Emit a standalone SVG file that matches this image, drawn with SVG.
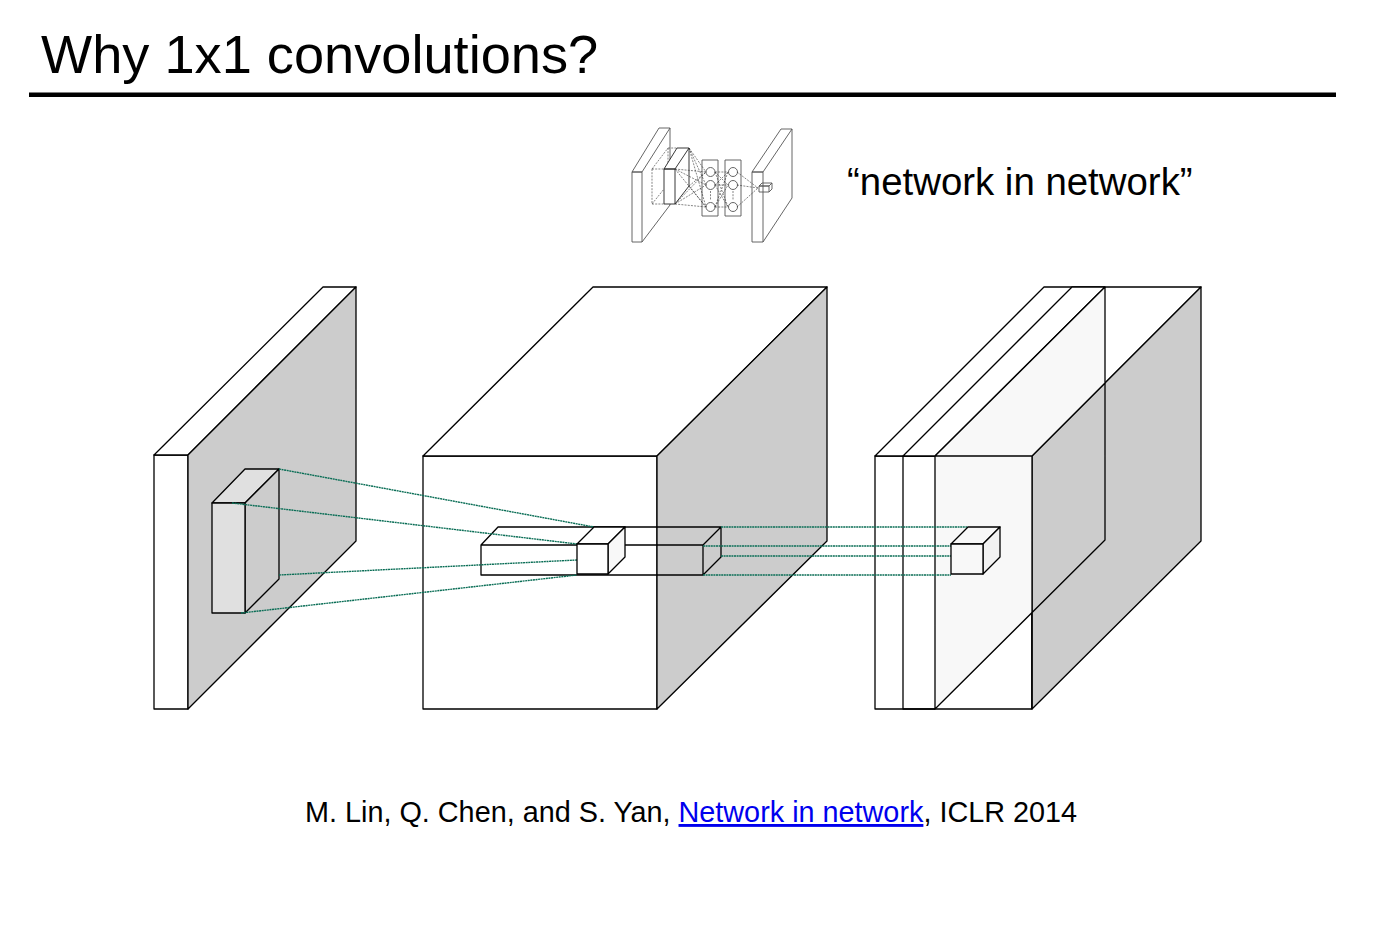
<svg xmlns="http://www.w3.org/2000/svg" width="1393" height="944" viewBox="0 0 1393 944">
<style>
.s{stroke:#000;stroke-width:1.3;stroke-linejoin:round}
.w{fill:#fff}.g{fill:#ccc}.l{fill:#f8f8f8}.m{fill:#e0e0e0}.n{fill:none}
.c{fill:none;stroke:#0a6e56;stroke-width:1.4;stroke-dasharray:2 .6}
.t{stroke:#222;stroke-width:.9;fill:#fff}.h{stroke:#555;stroke-width:.9;fill:none}.d{stroke:#333;stroke-width:.6;fill:none;stroke-dasharray:2 1.2}
text{font-family:"Liberation Sans",Arial,sans-serif;fill:#000}
</style>
<rect width="1393" height="944" fill="#fff"/>
<g id="title"><text x="41" y="73" font-size="54.200">Why 1x1 convolutions?</text><rect x="29" y="92.500" width="1307" height="4.500" fill="#000"/></g>
<g id="nin-thumbnail">
<path class="h" d="M632 172V242H642V172ZM632 172L659 128H670L642 172ZM642 242L670 205V128"/>
<path class="d" d="M652 169H664M652 204H664M652 169V204M652 169L668 148M652 204L664 189M668 148H677M668 148V170"/>
<path class="t" d="M664 169V204H675V169ZM664 169L677 148H689L675 169ZM675 204L689 186V148"/>
<path class="h" d="M702 160H718V216H702ZM725 160H741V216H725Z"/>
<path class="h" d="M752 172V242H763V172ZM752 172L781 129H792L763 172ZM763 242L792 198V129"/>
<g class="h"><circle cx="710.500" cy="172" r="4.500"/><circle cx="710.500" cy="185" r="4.500"/><circle cx="710.500" cy="207" r="4.500"/><circle cx="733" cy="172" r="4.500"/><circle cx="733" cy="185" r="4.500"/><circle cx="733" cy="207" r="4.500"/></g>
<path class="d" d="M675 169L706 172M675 169L706 185M675 169L706 207M675 204L706 172M675 204L706 185M675 204L706 207M689 148L706 172M689 148L706 185M689 148L706 207M689 186L706 172M689 186L706 207M715 172L728 172M715 172L728 185M715 172L728 207M715 185L728 172M715 185L728 185M715 185L728 207M715 207L728 172M715 207L728 185M715 207L728 207M737 172L758 188M737 185L758 188M737 207L758 188M710.500 191V200M733 191V200"/>
<path class="h" d="M759 186H769V192H759ZM759 186L762 183H772L769 186ZM769 192L772 189V183"/>
</g>
<g id="nin-label"><text x="847" y="195" font-size="38.400">“network in network”</text></g>
<g id="input-volume">
<path class="s w" d="M154 455H188V709H154Z"/>
<path class="s w" d="M154 455L323 287H356L188 455Z"/>
<path class="s g" d="M188 455L356 287V541L188 709Z"/>
</g>
<g id="input-patch">
<path class="s m" d="M212 503L245 469H279L245 503Z"/>
<path class="s g" d="M245 503L279 469V579L245 613Z"/>
<path class="s m" d="M212 503H245V613H212Z"/>
</g>
<g id="middle-volume">
<path class="s w" d="M423 456H657V709H423Z"/>
<path class="s w" d="M423 456L593 287H827L657 456Z"/>
<path class="s g" d="M657 456L827 287V541L657 709Z"/>
</g>
<g id="output-volumes">
<path class="s w" d="M875 456H1032V709H875Z"/>
<path class="s w" d="M875 456L1044 287H1201L1032 456Z"/>
<path class="s g" d="M1032 456L1201 287V541L1032 709Z"/>
<path class="s w" d="M903 456L1072 287H1105L935 456Z"/>
<path class="s n" d="M903 456V709H935"/>
<path d="M935 456L1105 287V383L1032 456V612L935 709Z" fill="#f8f8f8"/>
<path class="s n" d="M935 456H1032L1105 383M935 456V709L1105 540V287M935 456L1105 287M1032 456V709"/>
</g>
<g id="middle-slab">
<path class="s n" d="M481 545L498 527H721L703 545H481V575H703V545M703 545L721 527V557L703 575"/>
</g>
<g id="connectors">
<path class="c" d="M279 469L594 527M232 503L577 544M279 575L577 560M241 613L577 575"/>
<path class="c" d="M721 527H968M703 546H951M721 556H951M703 575H951"/>
</g>
<g id="middle-cell">
<path class="s w" d="M577 544L594 527H625L608 544Z"/>
<path class="s l" d="M608 544L625 527V557L608 574Z"/>
<path class="s w" d="M577 544H608V574H577Z"/>
</g>
<g id="output-cell">
<path class="s l" d="M951 544L968 527H1000L983 544Z"/>
<path class="s" fill="#f2f2f2" d="M983 544L1000 527V557L983 574Z"/>
<path class="s l" d="M951 544H983V574H951Z"/>
</g>
<g id="citation">
<text x="305" y="822" font-size="28.800">M. Lin, Q. Chen, and S. Yan, <tspan fill="#0000ee" text-decoration="underline">Network in network</tspan>, ICLR 2014</text>
</g>
</svg>
